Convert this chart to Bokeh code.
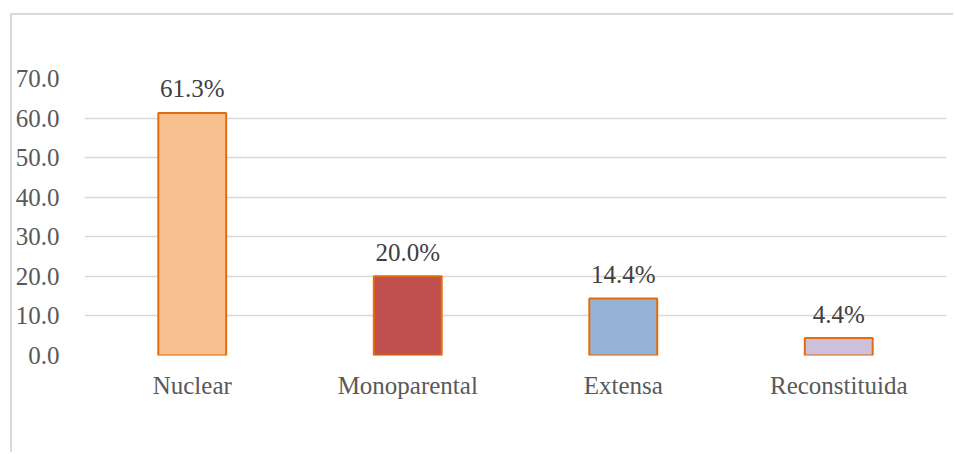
from bokeh.plotting import figure
from bokeh.models import Range1d, FactorRange, NumeralTickFormatter, FixedTicker, ColumnDataSource
from bokeh.embed import file_html
from bokeh.resources import INLINE
from bokeh.core.properties import value

categories = ["Nuclear", "Monoparental", "Extensa", "Reconstituida"]
values = [61.3, 20.0, 14.4, 4.4]
labels = ["61.3%", "20.0%", "14.4%", "4.4%"]
colors = ["#F9C08F", "#C0504D", "#95B3D7", "#CCC0DA"]
y_ticks = [0, 10, 20, 30, 40, 50, 60, 70]

src = ColumnDataSource(dict(cat=categories, val=values, lab=labels, col=colors))

FONT = "Liberation Serif"
FS = "25px"

p = figure(width=943, height=439, x_range=FactorRange(*categories, range_padding=0),
           y_range=Range1d(0, 70), output_backend="svg", toolbar_location=None,
           min_border_left=66, min_border_right=9, min_border_top=63, min_border_bottom=99,
           margin=(13, 0, 0, 10),
           styles={"border-left": "2px solid #d9d9d9", "border-top": "2px solid #d9d9d9"})
p.outline_line_color = None
p.background_fill_color = "white"
p.border_fill_color = "white"

p.vbar(x="cat", top="val", width=0.315, source=src, fill_color="col",
       line_color="#E46C0A", line_width=2)

p.text(x="cat", y="val", text="lab", source=src, text_align="center",
       text_baseline="alphabetic", y_offset=-24, text_font=value(FONT),
       text_font_size=FS, text_color="#404040")

p.xgrid.grid_line_color = None
p.ygrid.grid_line_color = "#d9d9d9"
p.ygrid.grid_line_width = 1.3
p.ygrid.ticker = FixedTicker(ticks=y_ticks)

p.yaxis.ticker = FixedTicker(ticks=y_ticks)
p.yaxis.formatter = NumeralTickFormatter(format="0.0")
p.yaxis.axis_line_color = None
p.yaxis.major_tick_line_color = None
p.yaxis.minor_tick_line_color = None
p.yaxis.major_label_standoff = 19
p.yaxis.major_label_text_font = FONT
p.yaxis.major_label_text_font_size = FS
p.yaxis.major_label_text_color = "#595959"

p.xaxis.axis_line_color = None
p.xaxis.major_tick_line_color = None
p.xaxis.minor_tick_line_color = None
p.xaxis.major_label_standoff = 10
p.xaxis.major_label_text_font = FONT
p.xaxis.major_label_text_font_size = FS
p.xaxis.major_label_text_color = "#595959"

open("out.html", "w").write(file_html(p, INLINE))
